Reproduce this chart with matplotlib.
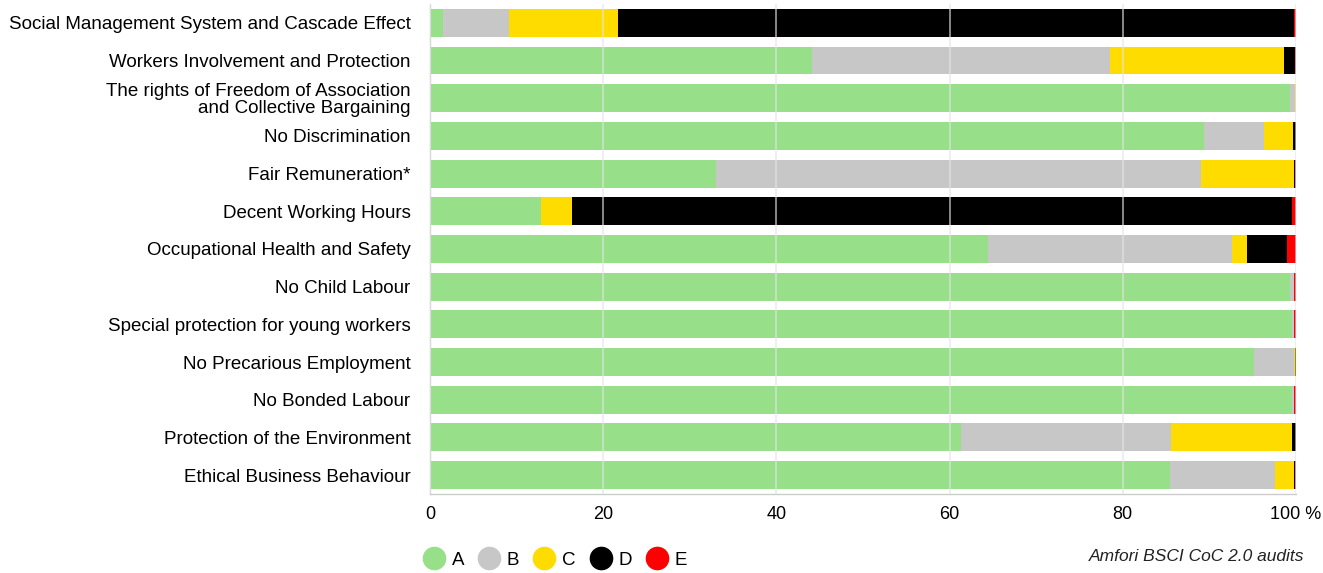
import matplotlib.pyplot as plt
import numpy as np
from matplotlib.lines import Line2D

plt.rcParams['font.family'] = ['Liberation Sans', 'DejaVu Sans']

# categories, top to bottom
categories = [
    "Social Management System and Cascade Effect",
    "Workers Involvement and Protection",
    "The rights of Freedom of Association\nand Collective Bargaining",
    "No Discrimination",
    "Fair Remuneration*",
    "Decent Working Hours",
    "Occupational Health and Safety",
    "No Child Labour",
    "Special protection for young workers",
    "No Precarious Employment",
    "No Bonded Labour",
    "Protection of the Environment",
    "Ethical Business Behaviour",
]

# share of audits per rating (%)
rating_a = [1.5, 44.1, 99.3, 89.4, 33.0, 12.8, 64.4, 99.3, 99.5, 95.2, 99.5, 61.3, 85.5]
rating_b = [7.6, 34.4, 0.6, 6.9, 56.1, 0.0, 28.2, 0.5, 0.3, 4.6, 0.3, 24.3, 12.1]
rating_c = [12.6, 20.1, 0.1, 3.4, 10.7, 3.6, 1.7, 0.0, 0.0, 0.1, 0.0, 13.9, 2.2]
rating_d = [78.1, 1.3, 0.0, 0.3, 0.1, 83.2, 4.7, 0.0, 0.0, 0.1, 0.0, 0.5, 0.1]
rating_e = [0.2, 0.1, 0.0, 0.0, 0.1, 0.4, 1.0, 0.2, 0.2, 0.1, 0.2, 0.0, 0.1]

ratings = ["A", "B", "C", "D", "E"]
colors = ["#98df8a", "#c7c7c7", "#ffdc00", "#000000", "#ff0000"]
x_ticks = [0, 20, 40, 60, 80, 100]
x_tick_labels = ["0", "20", "40", "60", "80", "100 %"]

fig = plt.figure(figsize=(13.23, 5.73), dpi=100)
ax = fig.add_axes([0.325, 0.138, 0.6545, 0.855])

y = np.arange(len(categories))
left = np.zeros(len(categories))
for vals, col in zip([rating_a, rating_b, rating_c, rating_d, rating_e], colors):
    vals = np.array(vals)
    ax.barh(y, vals, left=left, height=0.74, color=col, edgecolor='none', zorder=2)
    left += vals

ax.set_xlim(0, 100)
ax.set_ylim(len(categories) - 0.5, -0.5)
ax.set_yticks(y)
ax.set_yticklabels(categories, fontsize=13.5, linespacing=1.0)
ax.set_xticks(x_ticks)
ax.set_xticklabels(x_tick_labels, fontsize=13)
ax.tick_params(axis='y', length=0, pad=14)
ax.tick_params(axis='x', length=0, pad=9)

# vertical grid drawn over the bars
ax.grid(axis='x', color='#e4e4e4', alpha=0.7, linewidth=1.2, zorder=3)
ax.set_axisbelow(False)
for s in ['top', 'right']:
    ax.spines[s].set_visible(False)
for s in ['left', 'bottom']:
    ax.spines[s].set_color('#cccccc')
    ax.spines[s].set_linewidth(1)

handles = [Line2D([], [], marker='o', linestyle='none', markersize=16,
                  markerfacecolor=c, markeredgecolor=c) for c in colors]
fig.legend(handles, ratings, loc='center left', bbox_to_anchor=(0.306, 0.022),
           ncol=5, frameon=False, fontsize=13.5, handletextpad=0.3,
           columnspacing=0.68, handlelength=1.3)

fig.text(0.986, 0.028, "Amfori BSCI CoC 2.0 audits", ha='right', va='center',
         fontsize=12.5, style='italic', color='#222222')

fig.savefig("out.png", dpi=100)
